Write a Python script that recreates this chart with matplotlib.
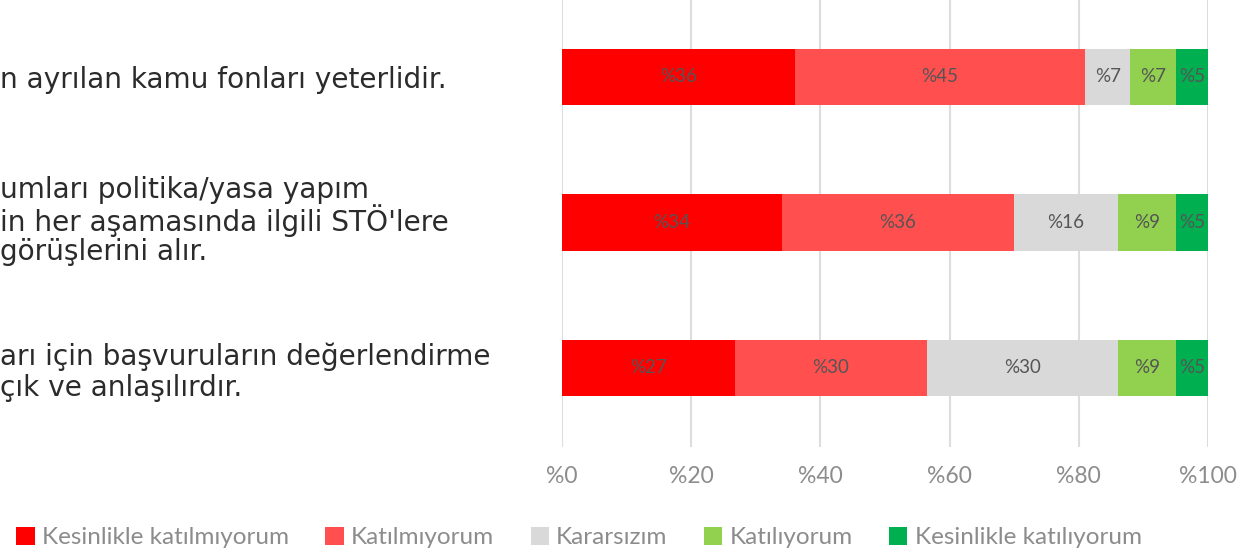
import numpy as np
import matplotlib.pyplot as plt
from matplotlib.patches import Patch

# statements (only the visible, cropped part of the text)
statement_lines = [
    ["n ayrılan kamu fonları yeterlidir."],
    ["umları politika/yasa yapım", "in her aşamasında ilgili STÖ'lere", "görüşlerini alır."],
    ["arı için başvuruların değerlendirme", "çık ve anlaşılırdır."],
]
categories = ["Kesinlikle katılmıyorum", "Katılmıyorum", "Kararsızım",
              "Katılıyorum", "Kesinlikle katılıyorum"]
values = np.array([
    [36, 45, 7, 7, 5],
    [34, 36, 16, 9, 5],
    [27, 30, 30, 9, 5],
], dtype=float)
xticks = [0, 20, 40, 60, 80, 100]
xticklabels = ["%0", "%20", "%40", "%60", "%80", "%100"]
colors = ["#ff0000", "#ff4f4f", "#d9d9d9", "#92d050", "#00b050"]

W, H = 1256, 555
fig = plt.figure(figsize=(W / 100, H / 100), dpi=100)
ax = fig.add_axes([562 / W, 1 - 447 / H, (1208 - 562) / W, 447 / H])

# 100% stacked bars
share = values / values.sum(axis=1, keepdims=True) * 100
ypos = np.arange(len(values))
left = np.zeros(len(values))
for j, cat in enumerate(categories):
    ax.barh(ypos, share[:, j], left=left, height=0.39, color=colors[j], zorder=2)
    for i in range(len(values)):
        ax.text(left[i] + share[i, j] / 2, ypos[i], "%%%d" % values[i, j],
                ha="center", va="center", fontsize=13.5, color="#555555",
                family="Lato", zorder=3)
    left += share[:, j]

ax.set_xlim(0, 100)
ax.set_ylim(2.543, -0.529)
ax.set_xticks(xticks)
ax.set_xticklabels(xticklabels, family="Lato", fontsize=16.5, color="#8c8c8c")
ax.tick_params(axis="x", length=0, pad=14)
ax.set_yticks([])
ax.grid(True, axis="x", color="#dddddd", linewidth=1.5, zorder=0)
for s in ax.spines.values():
    s.set_visible(False)

# left statement text
line_y = [[80], [190, 221, 252], [357, 388]]
for block, ys in zip(statement_lines, line_y):
    for txt, y in zip(block, ys):
        fig.text(0, 1 - y / H, txt, ha="left", va="center", fontsize=20.2,
                 family="DejaVu Sans", color="#2b2b2b")

handles = [Patch(facecolor=c, edgecolor="none") for c in colors]
fig.legend(handles, categories, loc="center", bbox_to_anchor=(0.461, 0.031),
           ncol=5, frameon=False, handlelength=0.75, handleheight=0.75,
           handletextpad=0.3, columnspacing=1.5,
           prop={"family": "Lato", "size": 17.5})
for t in fig.legends[0].get_texts():
    t.set_color("#8c8c8c")

plt.savefig("out.png", dpi=100)
